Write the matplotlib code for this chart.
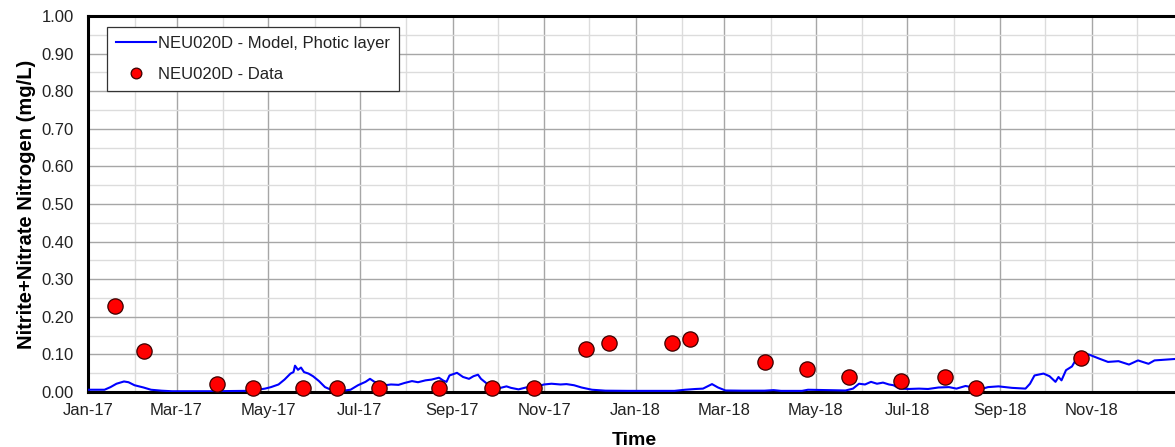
import matplotlib
matplotlib.use("Agg")
import matplotlib.pyplot as plt
import matplotlib.dates as mdates
import pandas as pd

plt.rcParams['font.family'] = ['Liberation Sans', 'DejaVu Sans']

model_dates = [
    "2017-01-01", "2017-01-12", "2017-01-16", "2017-01-20", "2017-01-25", "2017-01-28",
    "2017-02-01", "2017-02-07", "2017-02-12", "2017-02-19", "2017-02-26", "2017-03-24",
    "2017-04-16", "2017-04-24", "2017-04-29", "2017-05-03", "2017-05-08", "2017-05-12",
    "2017-05-16", "2017-05-18", "2017-05-19", "2017-05-21", "2017-05-23", "2017-05-25",
    "2017-05-28", "2017-05-31", "2017-06-04", "2017-06-08", "2017-06-12", "2017-06-19",
    "2017-06-25", "2017-06-30", "2017-07-05", "2017-07-08", "2017-07-11", "2017-07-15",
    "2017-07-18", "2017-07-22", "2017-07-27", "2017-07-31", "2017-08-05", "2017-08-09",
    "2017-08-14", "2017-08-18", "2017-08-23", "2017-08-26", "2017-08-28", "2017-08-30",
    "2017-09-04", "2017-09-08", "2017-09-12", "2017-09-15", "2017-09-18", "2017-09-20",
    "2017-09-24", "2017-09-28", "2017-10-03", "2017-10-07", "2017-10-10", "2017-10-15",
    "2017-10-20", "2017-10-26", "2017-11-01", "2017-11-06", "2017-11-12", "2017-11-16",
    "2017-11-21", "2017-11-26", "2017-12-03", "2017-12-12", "2017-12-27", "2018-01-27",
    "2018-02-03", "2018-02-10", "2018-02-15", "2018-02-21", "2018-02-25", "2018-03-02",
    "2018-03-13", "2018-03-28", "2018-04-03", "2018-04-08", "2018-04-22", "2018-04-26",
    "2018-05-07", "2018-05-21", "2018-05-26", "2018-05-30", "2018-06-03", "2018-06-07",
    "2018-06-11", "2018-06-15", "2018-06-19", "2018-06-22", "2018-06-26", "2018-07-02",
    "2018-07-09", "2018-07-15", "2018-07-22", "2018-07-29", "2018-08-03", "2018-08-09",
    "2018-08-13", "2018-08-18", "2018-08-24", "2018-08-31", "2018-09-09", "2018-09-18",
    "2018-09-21", "2018-09-24", "2018-09-30", "2018-10-04", "2018-10-08", "2018-10-10",
    "2018-10-12", "2018-10-15", "2018-10-19", "2018-10-22", "2018-10-25", "2018-10-30",
    "2018-11-06", "2018-11-12", "2018-11-19", "2018-11-26", "2018-12-02", "2018-12-09",
    "2018-12-13", "2018-12-20", "2018-12-27", "2018-12-31",
]
model_values = [
    0.006, 0.006, 0.013, 0.022, 0.028, 0.026,
    0.018, 0.012, 0.006, 0.0035, 0.002, 0.002,
    0.003, 0.006, 0.009, 0.013, 0.020, 0.033,
    0.049, 0.053, 0.070, 0.059, 0.065, 0.053,
    0.049, 0.042, 0.029, 0.013, 0.006, 0.003,
    0.006, 0.018, 0.027, 0.035, 0.027, 0.024,
    0.018, 0.020, 0.019, 0.024, 0.029, 0.026,
    0.031, 0.033, 0.038, 0.030, 0.027, 0.044,
    0.051, 0.040, 0.035, 0.042, 0.046, 0.035,
    0.022, 0.006, 0.011, 0.015, 0.011, 0.007,
    0.012, 0.013, 0.020, 0.022, 0.020, 0.021,
    0.018, 0.012, 0.006, 0.0035, 0.003, 0.003,
    0.006, 0.008, 0.009, 0.021, 0.012, 0.004,
    0.0035, 0.0035, 0.005, 0.003, 0.003, 0.006,
    0.005, 0.004, 0.009, 0.022, 0.020, 0.027,
    0.022, 0.025, 0.020, 0.018, 0.009, 0.008,
    0.009, 0.008, 0.012, 0.013, 0.009, 0.016,
    0.013, 0.006, 0.013, 0.015, 0.011, 0.009,
    0.022, 0.044, 0.049, 0.042, 0.027, 0.040,
    0.031, 0.058, 0.068, 0.089, 0.095, 0.100,
    0.089, 0.080, 0.082, 0.073, 0.084, 0.075,
    0.084, 0.086, 0.088, 0.088,
]

data_dates = [
    "2017-01-19", "2017-02-07", "2017-03-28", "2017-04-21", "2017-05-24", "2017-06-16",
    "2017-07-14", "2017-08-23", "2017-09-27", "2017-10-25", "2017-11-29", "2017-12-14",
    "2018-01-25", "2018-02-06", "2018-03-28", "2018-04-25", "2018-05-23", "2018-06-27",
    "2018-07-26", "2018-08-16", "2018-10-25",
]
data_values = [
    0.23, 0.11, 0.02, 0.01, 0.01, 0.01,
    0.01, 0.01, 0.01, 0.01, 0.115, 0.13,
    0.13, 0.14, 0.08, 0.06, 0.04, 0.03,
    0.04, 0.01, 0.09,
]

model_label = "NEU020D - Model, Photic layer"
data_label = "NEU020D - Data"
x_label = "Time"
y_label = "Nitrite+Nitrate Nitrogen (mg/L)"

md = pd.to_datetime(model_dates)
dd = pd.to_datetime(data_dates)

fig = plt.figure(figsize=(11.75, 4.47), dpi=100)
W, H = 1175, 447
ax = fig.add_axes([88 / W, 1 - 392 / H, 1093.5 / W, 376 / H])

ax.plot(md, model_values, color="#0000ff", lw=1.5, label=model_label, zorder=3)
ax.plot(dd, data_values, linestyle="none", marker="o", markersize=11,
        markerfacecolor="#ff0000", markeredgecolor="#3a0000", markeredgewidth=0.9,
        label=data_label, zorder=4, clip_on=False)

ax.set_xlim(pd.Timestamp("2017-01-01"), pd.Timestamp("2018-12-31"))
ax.set_ylim(0, 1.0)

ax.xaxis.set_major_locator(mdates.MonthLocator(bymonth=[1, 3, 5, 7, 9, 11]))
ax.xaxis.set_minor_locator(mdates.MonthLocator())
ax.xaxis.set_major_formatter(mdates.DateFormatter("%b-%y"))
ax.yaxis.set_major_locator(plt.MultipleLocator(0.1))
ax.yaxis.set_minor_locator(plt.MultipleLocator(0.05))
ax.yaxis.set_major_formatter(plt.FormatStrFormatter("%.2f"))

ax.grid(which="major", color="#a6a6a6", lw=1.0)
ax.grid(which="minor", color="#dcdcdc", lw=1.0)
ax.set_axisbelow(True)

ax.tick_params(which="both", length=0)
ax.tick_params(axis="x", labelsize=12, pad=8, colors="#222222")
ax.tick_params(axis="y", labelsize=12, pad=10, colors="#222222")

for s in ["left", "top", "bottom"]:
    ax.spines[s].set_linewidth(2.2)
    ax.spines[s].set_color("black")
ax.spines["right"].set_visible(False)

ax.set_xlabel(x_label, fontsize=14, fontweight="bold", labelpad=10)
ax.set_ylabel(y_label, fontsize=14.5, fontweight="bold", labelpad=4)

leg = ax.legend(loc="upper left", bbox_to_anchor=(19 / 1093.5, (392 - 27) / 376),
                borderaxespad=0, fancybox=False, framealpha=1, edgecolor="#333333",
                fontsize=12, handlelength=2.4, handletextpad=0.1, labelspacing=0.95,
                markerscale=0.7, borderpad=0.55)
leg.get_frame().set_linewidth(0.9)
for t in leg.get_texts():
    t.set_color("#222222")

fig.savefig("out.png", dpi=100)
